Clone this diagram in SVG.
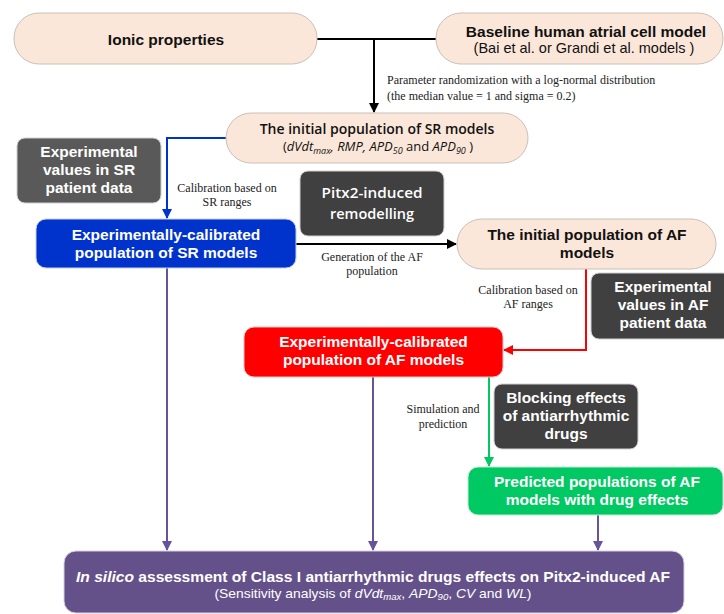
<svg xmlns="http://www.w3.org/2000/svg" width="724" height="614" viewBox="0 0 724 614">
<style>
.beige{fill:#fbe7d9;stroke:#c9c0b8;stroke-width:1}
.dk1{fill:#595959;stroke:#d0d0d0;stroke-width:1}
.dk2{fill:#404040;stroke:#d0d0d0;stroke-width:1}
.ar{font-family:"Liberation Sans",Arial,sans-serif;font-weight:bold;font-size:15.5px;text-anchor:middle}
.arr{font-family:"Liberation Sans",Arial,sans-serif;font-size:14.5px;text-anchor:middle}
.os{font-family:"Open Sans",sans-serif;font-weight:600;text-anchor:middle}
.tm{font-family:"Liberation Serif","Times New Roman",serif;font-size:12px;fill:#222}
.tmc{font-family:"Liberation Serif","Times New Roman",serif;font-size:12px;fill:#222;text-anchor:middle}
.w{fill:#fff}
.k{fill:#111}
.ln{fill:none;stroke-width:2}
</style>
<defs>
<marker id="ak" markerWidth="10" markerHeight="10" refX="9" refY="5" orient="auto" markerUnits="userSpaceOnUse"><path d="M0,0 L10,5 L0,10 z" fill="#000"/></marker>
<marker id="ab" markerWidth="10" markerHeight="10" refX="9" refY="5" orient="auto" markerUnits="userSpaceOnUse"><path d="M0,0 L10,5 L0,10 z" fill="#0033cc"/></marker>
<marker id="ar" markerWidth="10" markerHeight="10" refX="9" refY="5" orient="auto" markerUnits="userSpaceOnUse"><path d="M0,0 L10,5 L0,10 z" fill="#ff0000"/></marker>
<marker id="ag" markerWidth="10" markerHeight="10" refX="9" refY="5" orient="auto" markerUnits="userSpaceOnUse"><path d="M0,0 L10,5 L0,10 z" fill="#00c862"/></marker>
<marker id="ap" markerWidth="10" markerHeight="10" refX="9" refY="5" orient="auto" markerUnits="userSpaceOnUse"><path d="M0,0 L10,5 L0,10 z" fill="#66539a"/></marker>
</defs>

<g id="connectors">
<path class="ln" stroke="#000" d="M317,39 H436"/>
<path class="ln" stroke="#000" d="M374,39 V112" marker-end="url(#ak)"/>
<path class="ln" stroke="#0033cc" d="M227,138 H167 V218" marker-end="url(#ab)"/>
<path class="ln" stroke="#000" d="M296,244 H456" marker-end="url(#ak)"/>
<path class="ln" stroke="#ff0000" d="M586,269 V350 H504" marker-end="url(#ar)"/>
<path class="ln" stroke="#00c862" d="M489,377 V466" marker-end="url(#ag)"/>
<path class="ln" stroke="#66539a" d="M167,268 V550" marker-end="url(#ap)"/>
<path class="ln" stroke="#66539a" d="M373,377 V550" marker-end="url(#ap)"/>
<path class="ln" stroke="#66539a" d="M598,515 V550" marker-end="url(#ap)"/>
<text class="tm" x="387" y="84">Parameter randomization with a log-normal distribution</text>
<text class="tm" x="387" y="100">(the median value = 1 and sigma = 0.2)</text>
<text class="tmc" x="227" y="192">Calibration based on</text>
<text class="tmc" x="227" y="206">SR ranges</text>
<text class="tmc" x="372" y="261">Generation of the AF</text>
<text class="tmc" x="372" y="275">population</text>
<text class="tmc" x="528" y="294">Calibration based on</text>
<text class="tmc" x="528" y="308">AF ranges</text>
<text class="tmc" x="443" y="413">Simulation and</text>
<text class="tmc" x="443" y="428">prediction</text>
</g>

<g id="ionic">
<rect class="beige" x="14" y="13" width="303" height="51" rx="25"/>
<text class="ar k" x="166" y="44.5">Ionic properties</text>
</g>

<g id="baseline">
<rect class="beige" x="436" y="13" width="287" height="51" rx="25"/>
<text class="ar k" x="586" y="37">Baseline human atrial cell model</text>
<text class="arr k" x="584" y="53">(Bai et al. or Grandi et al. models )</text>
</g>

<g id="initSR">
<rect class="beige" x="226" y="113" width="302" height="50" rx="25"/>
<text class="os k" x="377" y="134" font-size="14">The initial population of SR models</text>
<text x="378" y="151" font-family="'Open Sans',sans-serif" font-size="13" text-anchor="middle" fill="#111">(<tspan font-style="italic">dVdt</tspan><tspan font-style="italic" font-size="9" dy="3">max</tspan><tspan dy="-3" font-style="italic">, RMP, APD</tspan><tspan font-style="italic" font-size="9" dy="3">50</tspan><tspan dy="-3"> and </tspan><tspan font-style="italic">APD</tspan><tspan font-style="italic" font-size="9" dy="3">90</tspan><tspan dy="-3"> )</tspan></text>
</g>

<g id="expSR">
<rect class="dk1" x="17" y="138" width="144" height="65" rx="8"/>
<text class="ar w" x="89" y="157">Experimental</text>
<text class="ar w" x="89" y="175">values in SR</text>
<text class="ar w" x="89" y="193">patient data</text>
</g>

<g id="calSR">
<rect x="36" y="219" width="260" height="49" rx="10" fill="#0033cc" stroke="#c8d0e8" stroke-width="1"/>
<text class="ar w" x="166" y="240">Experimentally-calibrated</text>
<text class="ar w" x="166" y="258">population of SR models</text>
</g>

<g id="pitx2">
<rect class="dk2" x="300" y="171" width="144" height="65" rx="8"/>
<text class="os w" x="372" y="198" font-size="14.5" textLength="101" lengthAdjust="spacingAndGlyphs">Pitx2-induced</text>
<text class="os w" x="372" y="219" font-size="14.5">remodelling</text>
</g>

<g id="initAF">
<rect class="beige" x="457" y="219" width="259" height="50" rx="25"/>
<text class="ar k" x="587" y="240">The initial population of AF</text>
<text class="ar k" x="587" y="258">models</text>
</g>

<g id="expAF">
<rect class="dk2" x="591" y="273" width="140" height="66" rx="8"/>
<text class="ar w" x="663" y="292">Experimental</text>
<text class="ar w" x="663" y="310">values in AF</text>
<text class="ar w" x="663" y="328">patient data</text>
</g>

<g id="calAF">
<rect x="244" y="327" width="259" height="50" rx="10" fill="#ff0000" stroke="#f0c0c0" stroke-width="1"/>
<text class="ar w" x="373.5" y="347">Experimentally-calibrated</text>
<text class="ar w" x="373.5" y="365">population of AF models</text>
</g>

<g id="blocking">
<rect class="dk2" x="494" y="384" width="144" height="65" rx="8"/>
<text class="ar w" x="566" y="403">Blocking effects</text>
<text class="ar w" x="566" y="421">of antiarrhythmic</text>
<text class="ar w" x="566" y="439">drugs</text>
</g>

<g id="predicted">
<rect x="468" y="467" width="255" height="48" rx="10" fill="#00c862" stroke="#c0e8d0" stroke-width="1"/>
<text class="ar w" x="597" y="487">Predicted populations of AF</text>
<text class="ar w" x="597" y="505">models with drug effects</text>
</g>

<g id="assessment">
<rect x="64" y="551" width="620" height="62" rx="12" fill="#65518a" stroke="#d8d0e0" stroke-width="1"/>
<text x="373" y="582" font-family="'Liberation Sans',Arial,sans-serif" font-weight="bold" font-size="15.5" text-anchor="middle" fill="#fff" textLength="594" lengthAdjust="spacingAndGlyphs"><tspan font-style="italic">In silico</tspan> assessment of Class I antiarrhythmic drugs effects on Pitx2-induced AF</text>
<text x="373" y="598" font-family="'Liberation Sans',Arial,sans-serif" font-size="13" text-anchor="middle" fill="#fff" textLength="317" lengthAdjust="spacingAndGlyphs">(Sensitivity analysis of <tspan font-style="italic">dVdt</tspan><tspan font-style="italic" font-size="9" dy="2">max</tspan><tspan dy="-2">, </tspan><tspan font-style="italic">APD</tspan><tspan font-style="italic" font-size="9" dy="2">90</tspan><tspan dy="-2">, </tspan><tspan font-style="italic">CV</tspan> and <tspan font-style="italic">WL</tspan>)</text>
</g>
</svg>
